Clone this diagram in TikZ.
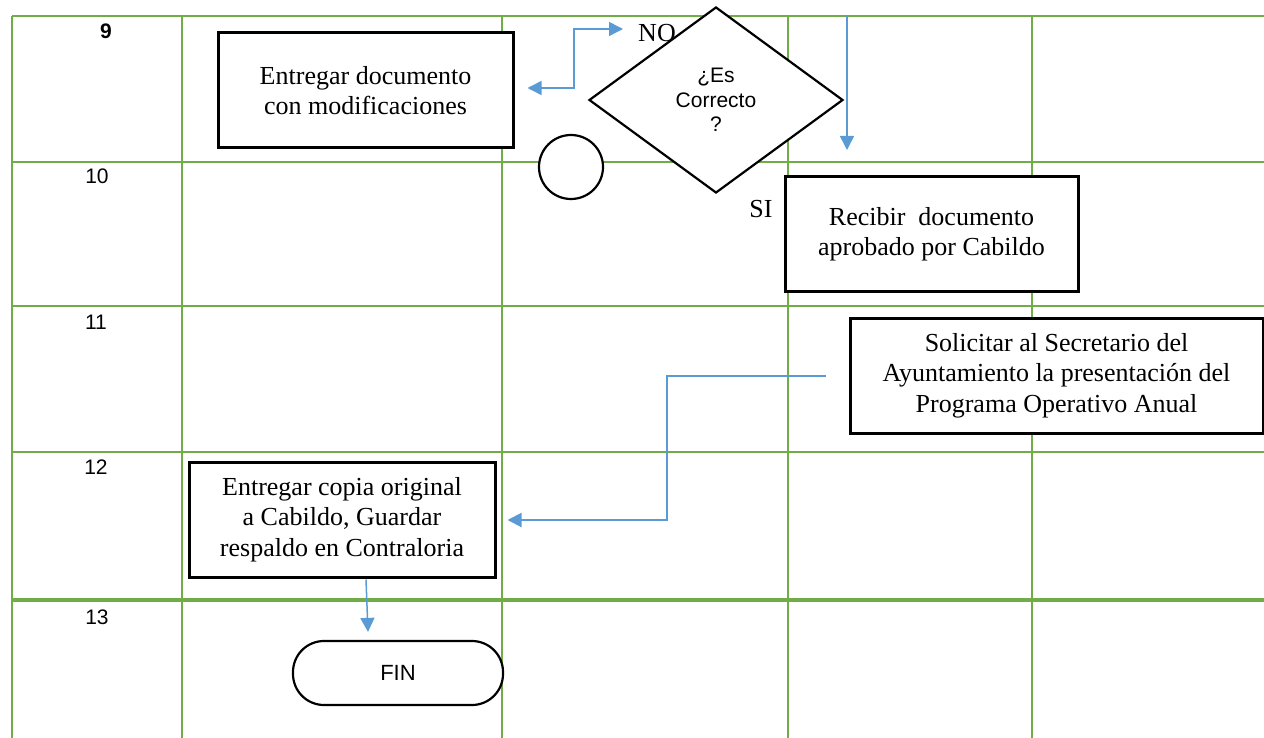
\documentclass[tikz,border=0pt]{standalone}
\usepackage{fontspec}
\setmainfont{Liberation Serif}
\newfontfamily\arialfont{Liberation Sans}
\usetikzlibrary{shapes.geometric,arrows.meta,calc}
\definecolor{gridgreen}{HTML}{70AD47}
\definecolor{flowblue}{HTML}{5B9BD5}
\tikzset{
  gridline/.style={draw=gridgreen, line width=2pt},
  stepbox/.style={draw=black, fill=white, line width=3pt, align=center,
    font=\fontsize{26}{30.5}\selectfont, inner sep=0pt},
  rownum/.style={font=\arialfont\fontsize{21}{24}\selectfont, inner sep=0pt},
  flow/.style={draw=flowblue, line width=1.5pt, -{Triangle[length=14pt,width=14pt]}},
  flowboth/.style={draw=flowblue, line width=1.5pt,
    {Triangle[length=14pt,width=14pt]}-{Triangle[length=14pt,width=14pt]}},
  decision/.style={diamond, draw=black, fill=white, line width=2.2pt, align=center,
    minimum width=254pt, minimum height=186pt, aspect=1.37, inner sep=0pt,
    font=\arialfont\fontsize{21}{24.5}\selectfont},
  connector/.style={circle, draw=black, fill=white, line width=2.2pt, minimum size=64pt},
  terminal/.style={rectangle, rounded corners=31pt, draw=black, fill=white, line width=2.2pt,
    minimum width=210pt, minimum height=64pt, font=\arialfont\fontsize{22}{26}\selectfont},
  answer/.style={font=\fontsize{26}{30}\selectfont, inner sep=0pt}
}
\begin{document}
\begin{tikzpicture}[x=1pt,y=-1pt]
\clip (0,0) rectangle (1264,738);

% table grid
\foreach \yy in {16,162,306,452}
  \draw[gridline] (12,\yy) -- (1264,\yy);
\draw[gridline, line width=4pt] (12,600) -- (1264,600);
\foreach \xx in {12,182,502,788,1032}
  \draw[gridline] (\xx,16) -- (\xx,738);

% row numbers
\node[rownum, font=\arialfont\bfseries\fontsize{21}{24}\selectfont] (r9) at (106,31) {9};
\node[rownum] (r10) at (97,176) {10};
\node[rownum] (r11) at (96,322) {11};
\node[rownum] (r12) at (96,467) {12};
\node[rownum] (r13) at (97,617) {13};

% process steps
\node[stepbox, minimum width=295pt, minimum height=115pt] (e1) at (365.5,90.5)
  {Entregar documento\\con modificaciones};
\node[decision] (d1) at (716,100) {¿Es\\Correcto\\?};
\node[connector] (k1) at (571,167) {};
\node[stepbox, minimum width=293pt, minimum height=114pt] (r1) at (931.5,234)
  {Recibir\ \ documento\\aprobado por Cabildo};
\node[stepbox, minimum width=413pt, minimum height=115pt] (s1) at (1056.5,375.5)
  {Solicitar al Secretario del\\Ayuntamiento la presentación del\\Programa Operativo Anual};
\node[stepbox, minimum width=306pt, minimum height=115pt] (c1) at (342,519.5)
  {Entregar copia original\\a Cabildo, Guardar\\respaldo en Contraloria};
\node[terminal] (fin) at (398,673) {FIN};

% answer labels
\node[answer] (no) at (657,33) {NO};
\node[answer] (si) at (761,209) {SI};

% connectors
\coordinate (noTip) at (623,29);
\draw[flowboth] ($(e1.east)+(13,-2.5)$) -| (574,60) |- (noTip);
\coordinate (topIn) at (847,16);
\draw[flow] (topIn) -- ($(topIn)+(0,134)$);
\draw[flow, line width=2pt] ($(s1.west)+(-23,0.5)$) -| ($(c1.east)+(170.5,0)$)
  |- ($(c1.east)+(11,0.5)$);
\draw[flow] ($(c1.south)+(24,1)$) -- ($(fin.north)+(-30,-8)$);
\end{tikzpicture}
\end{document}
